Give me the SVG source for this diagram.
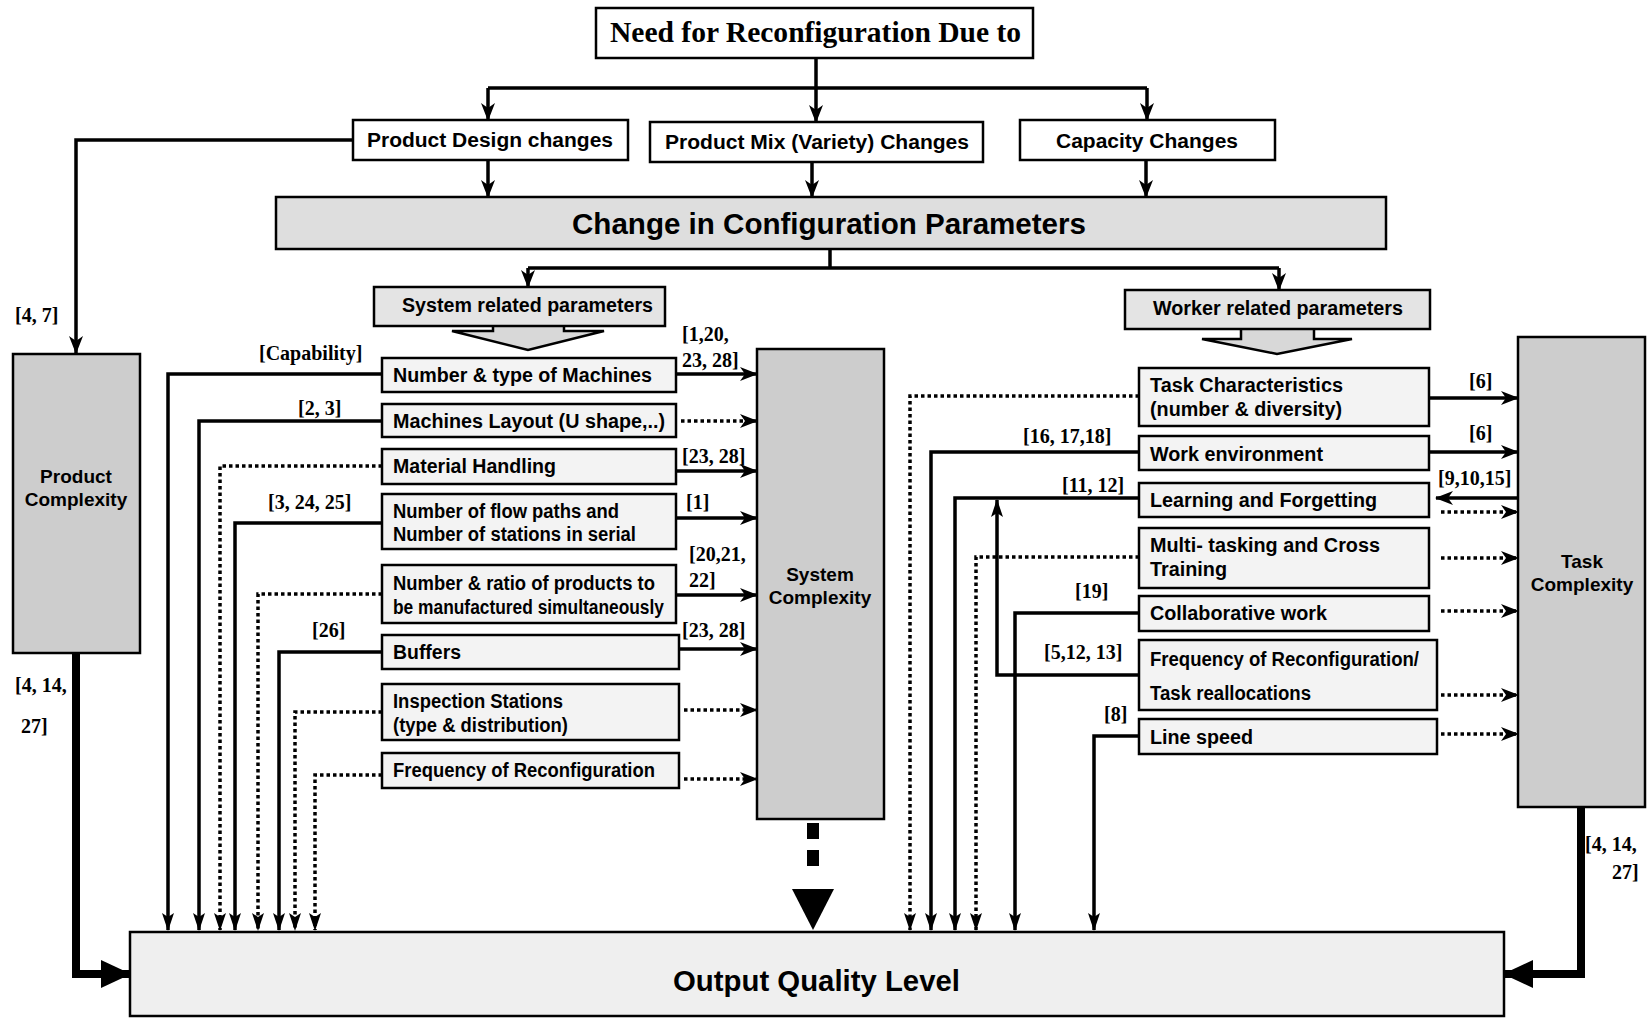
<svg xmlns="http://www.w3.org/2000/svg" width="1649" height="1018" viewBox="0 0 1649 1018">
  <style>
    .bx { stroke: #000; stroke-width: 2.5; }
    .w { fill: #fff; }
    .p { fill: #f3f3f3; }
    .h { fill: #e4e4e4; }
    .g { fill: #cdcdcd; }
    .c { fill: #dedede; }
    .o { fill: #efefef; }
    .t { font-family: "Liberation Sans", Arial, sans-serif; font-weight: bold; font-size: 19.5px; fill: #000; }
    .tb { font-family: "Liberation Sans", Arial, sans-serif; font-weight: bold; font-size: 29px; fill: #000; }
    .tc { font-family: "Liberation Sans", Arial, sans-serif; font-weight: bold; font-size: 19px; fill: #000; text-anchor: middle; }
    .r { font-family: "Liberation Serif", "Times New Roman", serif; font-weight: bold; font-size: 20px; fill: #000; }
    .ln { fill: none; stroke: #000; stroke-width: 3.5; }
    .dt { fill: none; stroke: #000; stroke-width: 3.5; stroke-dasharray: 3.5 3; }
    .th { fill: none; stroke: #000; stroke-width: 8; }
  </style>
  <defs>
    <marker id="ah" markerUnits="userSpaceOnUse" markerWidth="18" markerHeight="14" refX="17" refY="7" orient="auto">
      <path d="M0,0 L18,7 L0,14 L5,7 z" fill="#000" stroke="none"/>
    </marker>
    <marker id="av" markerUnits="userSpaceOnUse" markerWidth="18" markerHeight="12" refX="17" refY="6" orient="auto">
      <path d="M0,0 L18,6 L0,12 L4,6 z" fill="#000" stroke="none"/>
    </marker>
    <marker id="big" markerUnits="userSpaceOnUse" markerWidth="30" markerHeight="28" refX="28" refY="14" orient="auto">
      <path d="M0,0 L30,14 L0,28 z" fill="#000" stroke="none"/>
    </marker>
  </defs>

  <!-- connectors -->
  <g id="connectors">
    <!-- tree from the top box -->
    <path class="ln" d="M816,58 V88"/>
    <path class="ln" d="M488,88 H1147"/>
    <path class="ln" d="M488,88 V120" marker-end="url(#ah)"/>
    <path class="ln" d="M816,88 V122" marker-end="url(#ah)"/>
    <path class="ln" d="M1147,88 V120" marker-end="url(#ah)"/>
    <path class="ln" d="M488,160 V197" marker-end="url(#ah)"/>
    <path class="ln" d="M812,162 V197" marker-end="url(#ah)"/>
    <path class="ln" d="M1146,160 V197" marker-end="url(#ah)"/>
    <path class="ln" d="M353,140 H76 V353" marker-end="url(#ah)"/>
    <path class="ln" d="M830,249 V268"/>
    <path class="ln" d="M528,268 H1279"/>
    <path class="ln" d="M528,268 V287" marker-end="url(#ah)"/>
    <path class="ln" d="M1279,268 V290" marker-end="url(#ah)"/>

    <!-- system parameters into system complexity -->
    <path class="ln" d="M676,374 H757" marker-end="url(#ah)"/>
    <path class="dt" d="M681,421 H757" marker-end="url(#ah)"/>
    <path class="ln" d="M676,471 H757" marker-end="url(#ah)"/>
    <path class="ln" d="M676,518 H757" marker-end="url(#ah)"/>
    <path class="ln" d="M676,595 H757" marker-end="url(#ah)"/>
    <path class="ln" d="M679,649 H757" marker-end="url(#ah)"/>
    <path class="dt" d="M684,710 H757" marker-end="url(#ah)"/>
    <path class="dt" d="M684,779 H757" marker-end="url(#ah)"/>

    <!-- system parameters down to output quality -->
    <path class="ln" d="M382,374 H168 V930" marker-end="url(#av)"/>
    <path class="ln" d="M382,421 H199 V930" marker-end="url(#av)"/>
    <path class="dt" d="M382,466 H220 V930" marker-end="url(#av)"/>
    <path class="ln" d="M382,523 H235 V930" marker-end="url(#av)"/>
    <path class="dt" d="M382,594 H258 V930" marker-end="url(#av)"/>
    <path class="ln" d="M382,652 H279 V930" marker-end="url(#av)"/>
    <path class="dt" d="M382,712 H295 V930" marker-end="url(#av)"/>
    <path class="dt" d="M382,775 H315 V930" marker-end="url(#av)"/>

    <!-- system complexity to output quality -->
    <g fill="#000">
      <rect x="807" y="823" width="12" height="16"/>
      <rect x="807" y="850" width="12" height="16"/>
      <polygon points="792,889 834,889 813,930"/>
    </g>

    <!-- worker parameters into task complexity -->
    <path class="ln" d="M1429,398 H1518" marker-end="url(#ah)"/>
    <path class="ln" d="M1429,452 H1518" marker-end="url(#ah)"/>
    <path class="ln" d="M1518,498 H1436" marker-end="url(#ah)"/>
    <path class="dt" d="M1441,512 H1518" marker-end="url(#ah)"/>
    <path class="dt" d="M1441,558 H1518" marker-end="url(#ah)"/>
    <path class="dt" d="M1441,611 H1518" marker-end="url(#ah)"/>
    <path class="dt" d="M1441,695 H1518" marker-end="url(#ah)"/>
    <path class="dt" d="M1441,734 H1518" marker-end="url(#ah)"/>

    <!-- worker parameters down to output quality -->
    <path class="dt" d="M1139,396 H910 V930" marker-end="url(#av)"/>
    <path class="ln" d="M1139,452 H931 V930" marker-end="url(#av)"/>
    <path class="ln" d="M1139,498 H955 V930" marker-end="url(#av)"/>
    <path class="dt" d="M1139,557 H976 V930" marker-end="url(#av)"/>
    <path class="ln" d="M1139,613 H1015 V930" marker-end="url(#av)"/>
    <path class="ln" d="M1139,675 H997 V500" marker-end="url(#av)"/>
    <path class="ln" d="M1139,736 H1094 V930" marker-end="url(#av)"/>

    <!-- complexity boxes to output quality -->
    <path class="th" d="M76,653 V974 H129" marker-end="url(#big)"/>
    <path class="th" d="M1581,807 V974 H1505" marker-end="url(#big)"/>

    <!-- reference labels -->
    <text class="r" x="15" y="322">[4, 7]</text>
    <text class="r" x="259" y="360">[Capability]</text>
    <text class="r" x="682" y="341">[1,20,</text>
    <text class="r" x="682" y="367">23, 28]</text>
    <text class="r" x="298" y="415">[2, 3]</text>
    <text class="r" x="682" y="463">[23, 28]</text>
    <text class="r" x="268" y="509">[3, 24, 25]</text>
    <text class="r" x="686" y="509">[1]</text>
    <text class="r" x="689" y="561">[20,21,</text>
    <text class="r" x="689" y="587">22]</text>
    <text class="r" x="312" y="637">[26]</text>
    <text class="r" x="682" y="637">[23, 28]</text>
    <text class="r" x="15" y="692">[4, 14,</text>
    <text class="r" x="21" y="733">27]</text>
    <text class="r" x="1469" y="388">[6]</text>
    <text class="r" x="1469" y="440">[6]</text>
    <text class="r" x="1023" y="443">[16, 17,18]</text>
    <text class="r" x="1062" y="492">[11, 12]</text>
    <text class="r" x="1438" y="485">[9,10,15]</text>
    <text class="r" x="1075" y="598">[19]</text>
    <text class="r" x="1044" y="659">[5,12, 13]</text>
    <text class="r" x="1104" y="721">[8]</text>
    <text class="r" x="1585" y="851">[4, 14,</text>
    <text class="r" x="1612" y="879">27]</text>
  </g>

  <!-- top level -->
  <g id="need">
    <rect class="bx w" x="596" y="8" width="437" height="50"/>
    <text x="610" y="42" font-family="'Liberation Serif', 'Times New Roman', serif" font-weight="bold" font-size="30" textLength="411" lengthAdjust="spacingAndGlyphs">Need for Reconfiguration Due to</text>
  </g>

  <g id="product-design">
    <rect class="bx w" x="353" y="120" width="275" height="40"/>
    <text class="t" x="367" y="147" textLength="246" lengthAdjust="spacingAndGlyphs">Product Design changes</text>
  </g>
  <g id="product-mix">
    <rect class="bx w" x="650" y="122" width="333" height="40"/>
    <text class="t" x="665" y="149" textLength="304" lengthAdjust="spacingAndGlyphs">Product Mix (Variety) Changes</text>
  </g>
  <g id="capacity">
    <rect class="bx w" x="1020" y="120" width="255" height="40"/>
    <text class="t" x="1056" y="148" textLength="182" lengthAdjust="spacingAndGlyphs">Capacity Changes</text>
  </g>

  <g id="config-params">
    <rect class="bx c" x="276" y="197" width="1110" height="52" stroke-width="3.5"/>
    <text class="tb" x="572" y="234" textLength="514" lengthAdjust="spacingAndGlyphs">Change in Configuration Parameters</text>
  </g>

  <!-- parameter group headers with block arrows -->
  <g id="system-params">
    <polygon points="493,325 564,325 564,331 604,331 528,350 452,331 493,331" fill="#d8d8d8" stroke="#000" stroke-width="2.5"/>
    <rect class="bx h" x="374" y="287" width="291" height="39"/>
    <text class="t" x="402" y="312" textLength="251" lengthAdjust="spacingAndGlyphs">System related parameters</text>
  </g>
  <g id="worker-params">
    <polygon points="1241,328 1314,328 1314,339 1352,339 1277,354 1202,339 1241,339" fill="#d8d8d8" stroke="#000" stroke-width="2.5"/>
    <rect class="bx h" x="1125" y="290" width="305" height="39"/>
    <text class="t" x="1153" y="315" textLength="250" lengthAdjust="spacingAndGlyphs">Worker related parameters</text>
  </g>

  <!-- system parameters -->
  <g id="machines">
    <rect class="bx p" x="382" y="358" width="294" height="34"/>
    <text class="t" x="393" y="382" textLength="259" lengthAdjust="spacingAndGlyphs">Number &amp; type of Machines</text>
  </g>
  <g id="layout">
    <rect class="bx p" x="382" y="404" width="294" height="33"/>
    <text class="t" x="393" y="428" textLength="272" lengthAdjust="spacingAndGlyphs">Machines Layout (U shape,..)</text>
  </g>
  <g id="material-handling">
    <rect class="bx p" x="382" y="449" width="294" height="35"/>
    <text class="t" x="393" y="473" textLength="163" lengthAdjust="spacingAndGlyphs">Material Handling</text>
  </g>
  <g id="flow-paths">
    <rect class="bx p" x="382" y="494" width="294" height="55"/>
    <text class="t" x="393" y="518" font-size="18" textLength="226" lengthAdjust="spacingAndGlyphs">Number of flow paths and</text>
    <text class="t" x="393" y="541" font-size="18" textLength="243" lengthAdjust="spacingAndGlyphs">Number of stations in serial</text>
  </g>
  <g id="product-ratio">
    <rect class="bx p" x="382" y="565" width="294" height="58"/>
    <text class="t" x="393" y="590" font-size="18" textLength="262" lengthAdjust="spacingAndGlyphs">Number &amp; ratio of products to</text>
    <text class="t" x="393" y="614" font-size="17" textLength="271" lengthAdjust="spacingAndGlyphs">be manufactured simultaneously</text>
  </g>
  <g id="buffers">
    <rect class="bx p" x="382" y="635" width="297" height="34"/>
    <text class="t" x="393" y="659" textLength="68" lengthAdjust="spacingAndGlyphs">Buffers</text>
  </g>
  <g id="inspection">
    <rect class="bx p" x="382" y="684" width="297" height="56"/>
    <text class="t" x="393" y="708" font-size="18" textLength="170" lengthAdjust="spacingAndGlyphs">Inspection Stations</text>
    <text class="t" x="393" y="732" font-size="18" textLength="175" lengthAdjust="spacingAndGlyphs">(type &amp; distribution)</text>
  </g>
  <g id="sys-frequency">
    <rect class="bx p" x="382" y="753" width="297" height="35"/>
    <text class="t" x="393" y="777" font-size="18" textLength="262" lengthAdjust="spacingAndGlyphs">Frequency of Reconfiguration</text>
  </g>

  <!-- worker parameters -->
  <g id="task-characteristics">
    <rect class="bx p" x="1139" y="368" width="290" height="58"/>
    <text class="t" x="1150" y="392" font-size="18.5" textLength="193" lengthAdjust="spacingAndGlyphs">Task Characteristics</text>
    <text class="t" x="1150" y="416" font-size="18.5" textLength="192" lengthAdjust="spacingAndGlyphs">(number &amp; diversity)</text>
  </g>
  <g id="work-environment">
    <rect class="bx p" x="1139" y="436" width="290" height="34"/>
    <text class="t" x="1150" y="461" font-size="18.5" textLength="173" lengthAdjust="spacingAndGlyphs">Work environment</text>
  </g>
  <g id="learning">
    <rect class="bx p" x="1139" y="483" width="290" height="34"/>
    <text class="t" x="1150" y="507" font-size="18.5" textLength="227" lengthAdjust="spacingAndGlyphs">Learning and Forgetting</text>
  </g>
  <g id="multitasking">
    <rect class="bx p" x="1139" y="528" width="290" height="60"/>
    <text class="t" x="1150" y="552" font-size="18.5" textLength="230" lengthAdjust="spacingAndGlyphs">Multi- tasking and Cross</text>
    <text class="t" x="1150" y="576" font-size="18.5" textLength="77" lengthAdjust="spacingAndGlyphs">Training</text>
  </g>
  <g id="collaborative">
    <rect class="bx p" x="1139" y="596" width="290" height="35"/>
    <text class="t" x="1150" y="620" font-size="18.5" textLength="177" lengthAdjust="spacingAndGlyphs">Collaborative work</text>
  </g>
  <g id="task-reallocation">
    <rect class="bx p" x="1139" y="640" width="298" height="70"/>
    <text class="t" x="1150" y="666" font-size="18.5" textLength="269" lengthAdjust="spacingAndGlyphs">Frequency of Reconfiguration/</text>
    <text class="t" x="1150" y="700" font-size="18.5" textLength="161" lengthAdjust="spacingAndGlyphs">Task reallocations</text>
  </g>
  <g id="line-speed">
    <rect class="bx p" x="1139" y="719" width="298" height="35"/>
    <text class="t" x="1150" y="744" font-size="18.5" textLength="103" lengthAdjust="spacingAndGlyphs">Line speed</text>
  </g>

  <!-- complexity boxes -->
  <g id="product-complexity">
    <rect class="bx g" x="13" y="354" width="127" height="299" stroke-width="3"/>
    <text class="tc" x="76" y="483">Product</text>
    <text class="tc" x="76" y="506">Complexity</text>
  </g>
  <g id="system-complexity">
    <rect class="bx g" x="757" y="349" width="127" height="470" stroke-width="3"/>
    <text class="tc" x="820" y="581">System</text>
    <text class="tc" x="820" y="604">Complexity</text>
  </g>
  <g id="task-complexity">
    <rect class="bx g" x="1518" y="337" width="127" height="470" stroke-width="3"/>
    <text class="tc" x="1582" y="568">Task</text>
    <text class="tc" x="1582" y="591">Complexity</text>
  </g>

  <!-- output -->
  <g id="output-quality">
    <rect class="bx o" x="130" y="932" width="1374" height="84" stroke-width="3.5"/>
    <text class="tb" x="673" y="991" textLength="287" lengthAdjust="spacingAndGlyphs">Output Quality Level</text>
  </g>
</svg>
